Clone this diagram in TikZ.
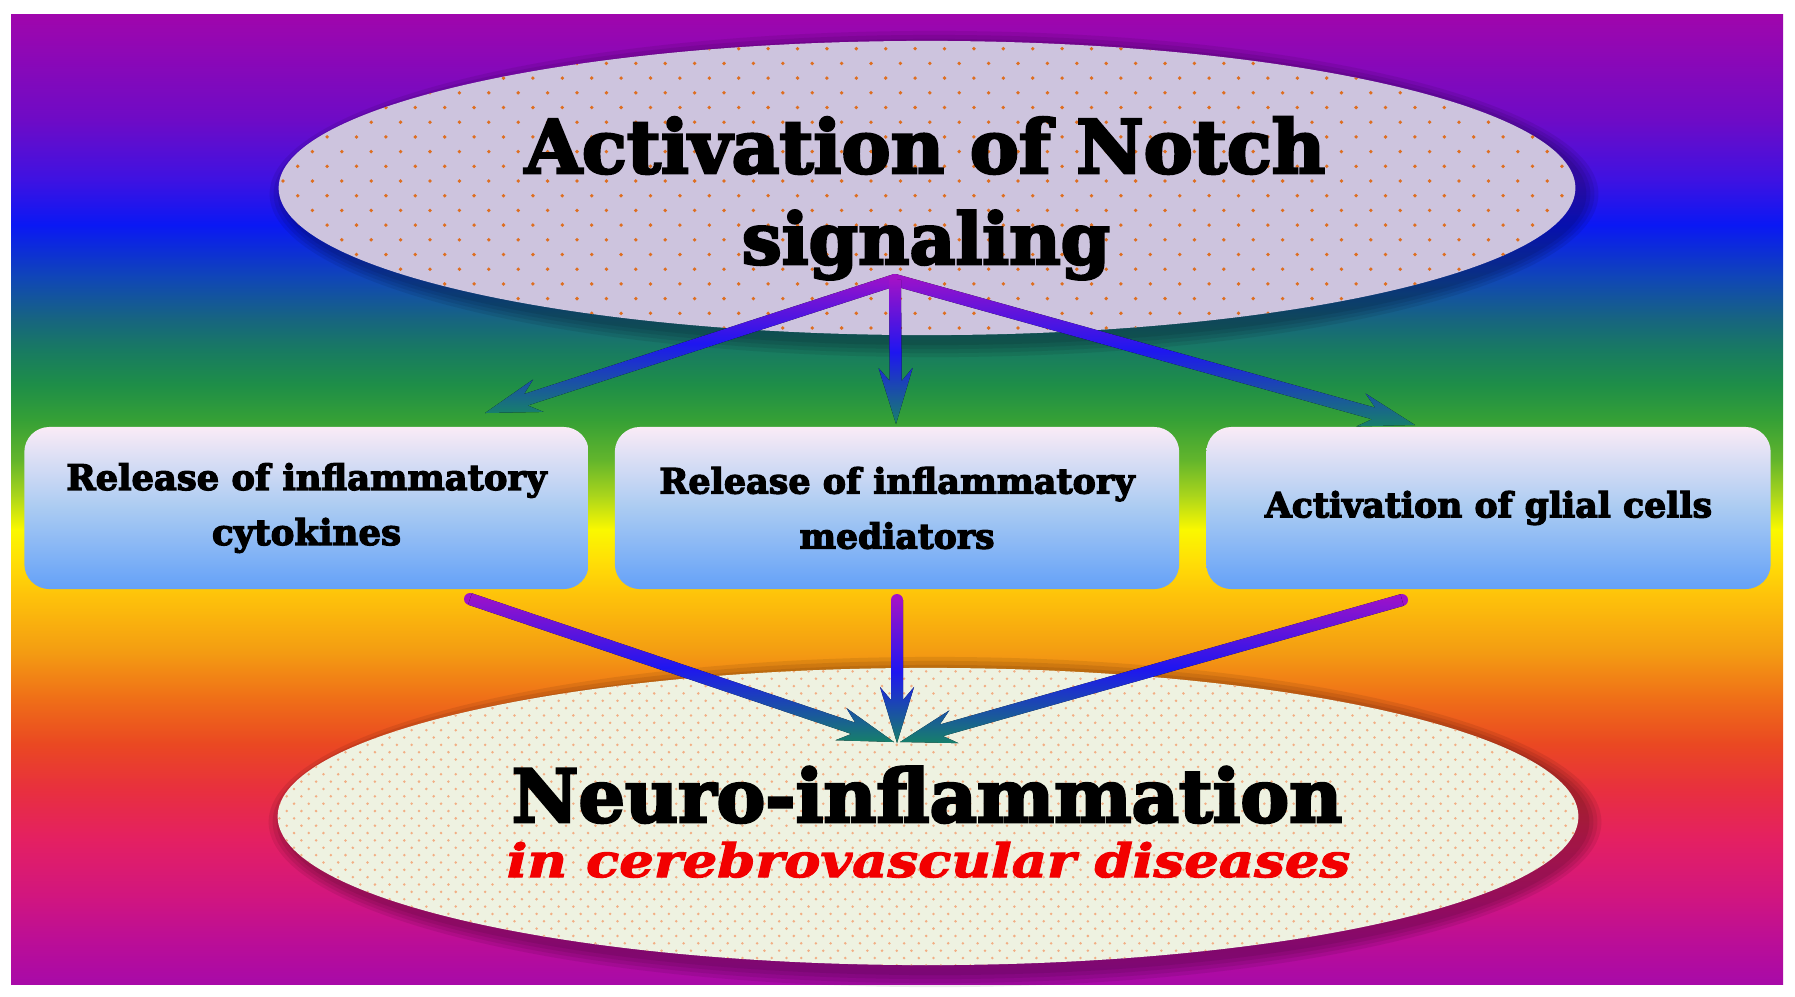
\documentclass[tikz,border=0pt]{standalone}
\usepackage{fontspec}
\usepackage{graphicx}
\usetikzlibrary{calc,shapes.geometric}
\newfontfamily\hfont[BoldFeatures={FakeBold=3.5}]{DejaVu Serif}
\newfontfamily\rfont[FakeStretch=1.18, BoldItalicFeatures={FakeBold=2.5}]{DejaVu Serif}

\definecolor{c014}{HTML}{A006AC}
\definecolor{c120}{HTML}{6E0BC6}
\definecolor{c180}{HTML}{3E12E2}
\definecolor{c225}{HTML}{0A18F4}
\definecolor{c280}{HTML}{1048B4}
\definecolor{c320}{HTML}{17657F}
\definecolor{c350}{HTML}{187A62}
\definecolor{c385}{HTML}{1E8E48}
\definecolor{c420}{HTML}{35A036}
\definecolor{c460}{HTML}{62B52C}
\definecolor{c495}{HTML}{A8D41C}
\definecolor{c530}{HTML}{FAF800}
\definecolor{c560}{HTML}{FFE006}
\definecolor{c595}{HTML}{FEC30A}
\definecolor{c650}{HTML}{F49E12}
\definecolor{c700}{HTML}{EF6E18}
\definecolor{c745}{HTML}{EA4822}
\definecolor{c790}{HTML}{E8303E}
\definecolor{c840}{HTML}{E42062}
\definecolor{c895}{HTML}{D2167E}
\definecolor{c940}{HTML}{BC0E96}
\definecolor{c985}{HTML}{A80AA8}

\definecolor{topfill}{HTML}{CDC4DE}
\definecolor{botfill}{HTML}{EEF2E1}
\definecolor{dotA}{HTML}{DE6E20}
\definecolor{dotB}{HTML}{F2AE84}
\definecolor{boxT}{HTML}{FAEBF6}
\definecolor{boxM}{HTML}{AACBF2}
\definecolor{boxB}{HTML}{64A1F8}
\definecolor{arrP}{HTML}{A012C8}
\definecolor{arrB}{HTML}{1E16F0}
\definecolor{arrT}{HTML}{17806A}
\definecolor{redtxt}{HTML}{F20000}

\pgfdeclareverticalshading{bgsh}{100bp}{%
color(0bp)=(c985); color(25bp)=(c985); color(27.32bp)=(c940);
color(29.63bp)=(c895); color(32.47bp)=(c840); color(35.04bp)=(c790);
color(37.36bp)=(c745); color(39.68bp)=(c700); color(42.25bp)=(c650);
color(45.08bp)=(c595); color(46.88bp)=(c560); color(48.43bp)=(c530);
color(50.23bp)=(c495); color(52.03bp)=(c460); color(54.09bp)=(c420);
color(55.90bp)=(c385); color(57.70bp)=(c350); color(59.24bp)=(c320);
color(61.30bp)=(c280); color(64.13bp)=(c225); color(66.45bp)=(c180);
color(69.54bp)=(c120); color(75bp)=(c014); color(100bp)=(c014)}

\newcommand\fw[2]{\resizebox{#1cm}{!}{#2}}

\tikzset{
  box/.style={rounded corners=0.25cm, minimum width=5.64cm, minimum height=1.62cm,
    inner sep=0pt, top color=boxT, bottom color=boxB, middle color=boxM,
    align=center, font=\hfont\bfseries\fontsize{10pt}{0.55cm}\selectfont},
  ttl/.style={anchor=base, inner sep=0pt, font=\hfont\bfseries},
  arrshade/.style={top color=arrP, bottom color=arrT, middle color=arrB},
}

\newcommand\garrow[2]{%
  \fill[arrP] (#1) circle (0.06cm);
  \fill[arrshade] ($(#1)!0.06cm!90:(#2)$)
    -- ($($(#2)!0.43cm!(#1)$)!0.06cm!-90:(#1)$)
    -- ($($(#2)!0.56cm!(#1)$)!0.17cm!-90:(#1)$)
    -- (#2)
    -- ($($(#2)!0.56cm!(#1)$)!0.17cm!90:(#1)$)
    -- ($($(#2)!0.43cm!(#1)$)!0.06cm!90:(#1)$)
    -- ($(#1)!0.06cm!-90:(#2)$) -- cycle;}

\begin{document}
\begin{tikzpicture}[x=0.01cm, y=-0.01cm]
\useasboundingbox (0,0) rectangle (1795,996);
\fill[white] (0,0) rectangle (1795,996);
\shade[shading=bgsh] (11,14) rectangle (1783,984);

% top ellipse
\foreach \r/\s in {6.64/1.63, 6.60/1.59, 6.56/1.55, 6.52/1.51}
  \fill[black, opacity=0.08] (934,194) ellipse [x radius=\r cm, y radius=\s cm];
\node[ellipse, inner sep=0pt, minimum width=12.96cm, minimum height=2.94cm, fill=topfill] (top) at (927,188) {};
\begin{scope}
  \clip (927,188) ellipse [x radius=6.48cm, y radius=1.47cm];
  \foreach \j in {0,...,21} {
    \pgfmathsetmacro\yy{34+14.7*\j}
    \pgfmathsetmacro\xo{mod(\j,2)*14.7}
    \fill[dotA] \foreach \i in {0,...,45} {(253.6+\xo+29.4*\i,\yy) circle (0.019cm)};
  }
\end{scope}

% bottom ellipse
\foreach \r/\s in {6.66/1.65, 6.62/1.61, 6.58/1.57, 6.54/1.53}
  \fill[black, opacity=0.08] (935,822) ellipse [x radius=\r cm, y radius=\s cm];
\node[ellipse, inner sep=0pt, minimum width=13.00cm, minimum height=2.97cm, fill=botfill] (bot) at (928,816.5) {};
\begin{scope}
  \clip (928,816.5) ellipse [x radius=6.50cm, y radius=1.485cm];
  \foreach \j in {0,...,42} {
    \pgfmathsetmacro\yy{664+7.35*\j}
    \pgfmathsetmacro\xo{mod(\j,2)*7.35}
    \fill[dotB] \foreach \i in {0,...,89} {(272+\xo+14.7*\i,\yy) circle (0.014cm)};
  }
\end{scope}

% boxes
\node[box] (b1) at (306.5,508) {\fw{4.80}{Release of inflammatory}\\\fw{1.89}{cytokines}};
\node[box] (b2) at (897,508) {\fw{4.75}{Release of inflammatory}\\\fw{1.95}{mediators}};
\node[box] (b3) at (1488.5,508) {\fw{4.47}{Activation of glial cells}};

% titles
\node[ttl] (tt1) at (925,173) {\fw{8.00}{Activation of Notch}};
\node[ttl] (tt2) at (926,264) {\fw{3.68}{signaling}};
\node[ttl] (bt1) at (927,822) {\fw{8.30}{Neuro-inflammation}};
\node[ttl, font=\rfont\bfseries\itshape, text=redtxt] (bt2) at (928.5,877) {\fw{8.43}{in cerebrovascular diseases}};

% arrows
\coordinate (apex) at (895,280);
\coordinate (tl) at (485,413);
\coordinate (tm) at (896,424);
\coordinate (tr) at (1415,425);
\coordinate (s1) at (470,599);
\coordinate (s2) at (897,600);
\coordinate (s3) at (1402,600);
\coordinate (e1) at (894,742);
\coordinate (e2) at (897,743);
\coordinate (e3) at (900,742);
\garrow{apex}{tl}
\garrow{apex}{tr}
\garrow{apex}{tm}
\garrow{s1}{e1}
\garrow{s3}{e3}
\garrow{s2}{e2}
\end{tikzpicture}
\end{document}
